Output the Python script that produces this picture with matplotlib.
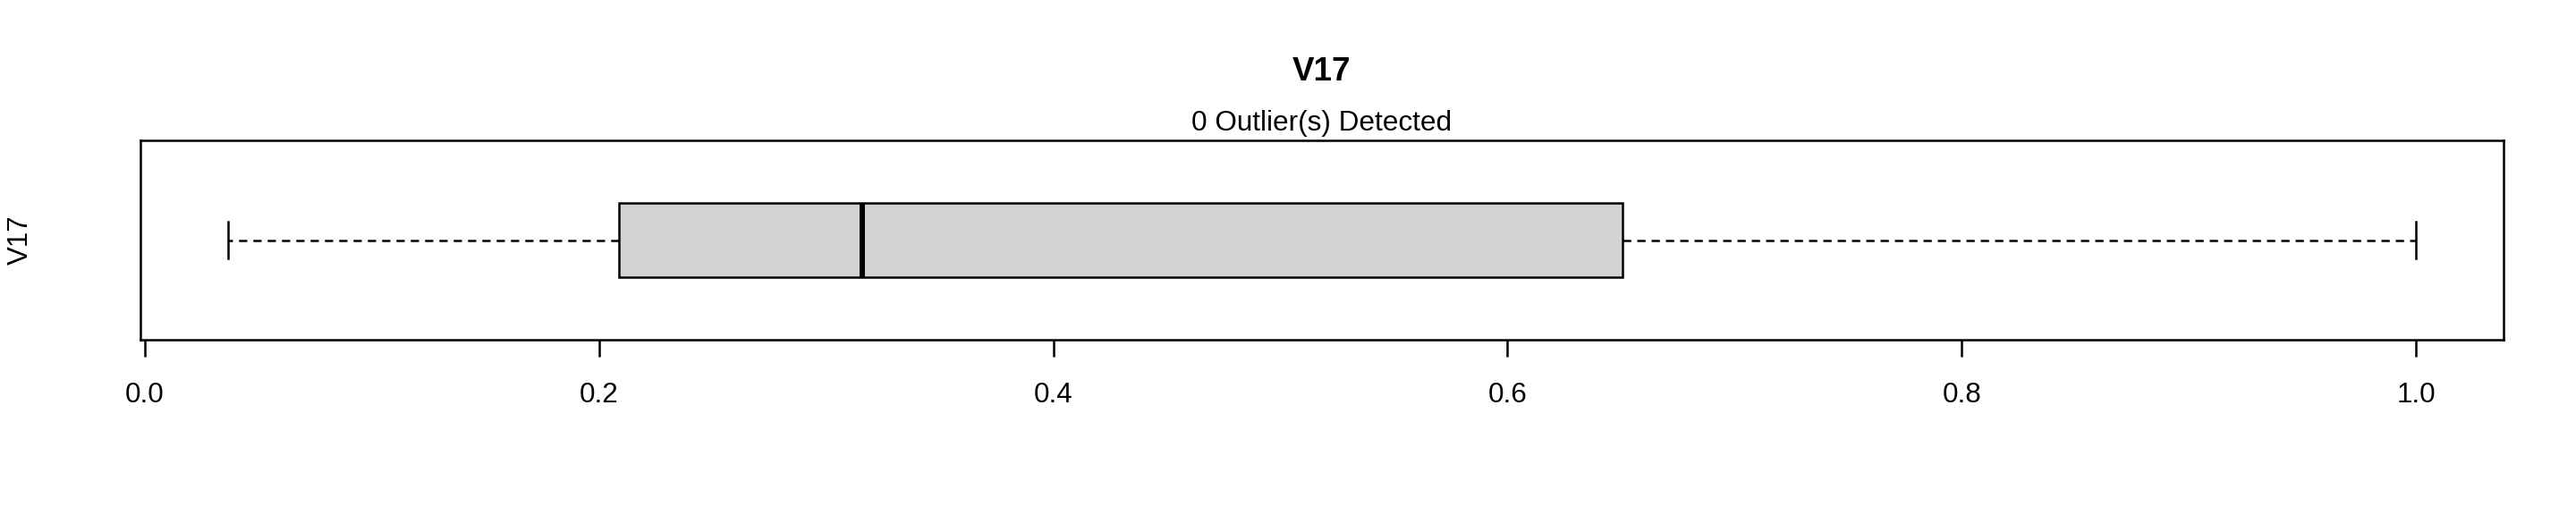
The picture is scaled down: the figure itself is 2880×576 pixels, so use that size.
import matplotlib
matplotlib.use("Agg")
import matplotlib.pyplot as plt

plt.rcParams['font.family'] = ['Liberation Sans', 'DejaVu Sans']

# Dati del boxplot
var_name = "V17"
whisker_low = 0.0366
q1 = 0.2086
median = 0.3159
q3 = 0.6505
whisker_high = 1.0
n_outliers = 0
x_ticks = [0.0, 0.2, 0.4, 0.6, 0.8, 1.0]
x_tick_labels = ["0.0", "0.2", "0.4", "0.6", "0.8", "1.0"]

stats = [{
    "whislo": whisker_low, "q1": q1, "med": median,
    "q3": q3, "whishi": whisker_high, "fliers": [], "label": var_name,
}]

fig = plt.figure(figsize=(28.8, 5.76), dpi=100, facecolor='white')
ax = fig.add_axes([157 / 2880, 1 - 380 / 576, (2799 - 157) / 2880, (380 - 157) / 576])

lw = 1.8
ax.bxp(stats, positions=[1], widths=0.4, capwidths=0.2, orientation='horizontal',
       patch_artist=True, showfliers=False,
       boxprops=dict(facecolor='#d3d3d3', edgecolor='black', linewidth=lw),
       medianprops=dict(color='black', linewidth=4.3, solid_capstyle='butt'),
       whiskerprops=dict(color='black', linewidth=lw, linestyle=(0, (3.7, 2.7))),
       capprops=dict(color='black', linewidth=lw))

ax.set_xlim(-0.0019, 1.0385)
ax.set_ylim(0.46, 1.54)

ax.set_xticks(x_ticks)
ax.set_xticklabels(x_tick_labels)
ax.tick_params(axis='x', length=13.5, width=lw, labelsize=22.6, pad=20, color='black')
ax.set_yticks([])

for s in ax.spines.values():
    s.set_linewidth(lw)
    s.set_color('black')

# Titolo, sottotitolo ed etichetta asse y
fig.text((157 + 2799) / 2 / 2880, 1 - 80 / 576, var_name, ha='center', va='center',
         fontsize=26.5, fontweight='bold')
fig.text((157 + 2799) / 2 / 2880, 1 - 138 / 576, f"{n_outliers} Outlier(s) Detected",
         ha='center', va='center', fontsize=22.7)
fig.text(23 / 2880, 1 - 268 / 576, var_name, ha='center', va='center',
         rotation=90, fontsize=22.5)

fig.savefig("out.png", dpi=100, facecolor='white')
